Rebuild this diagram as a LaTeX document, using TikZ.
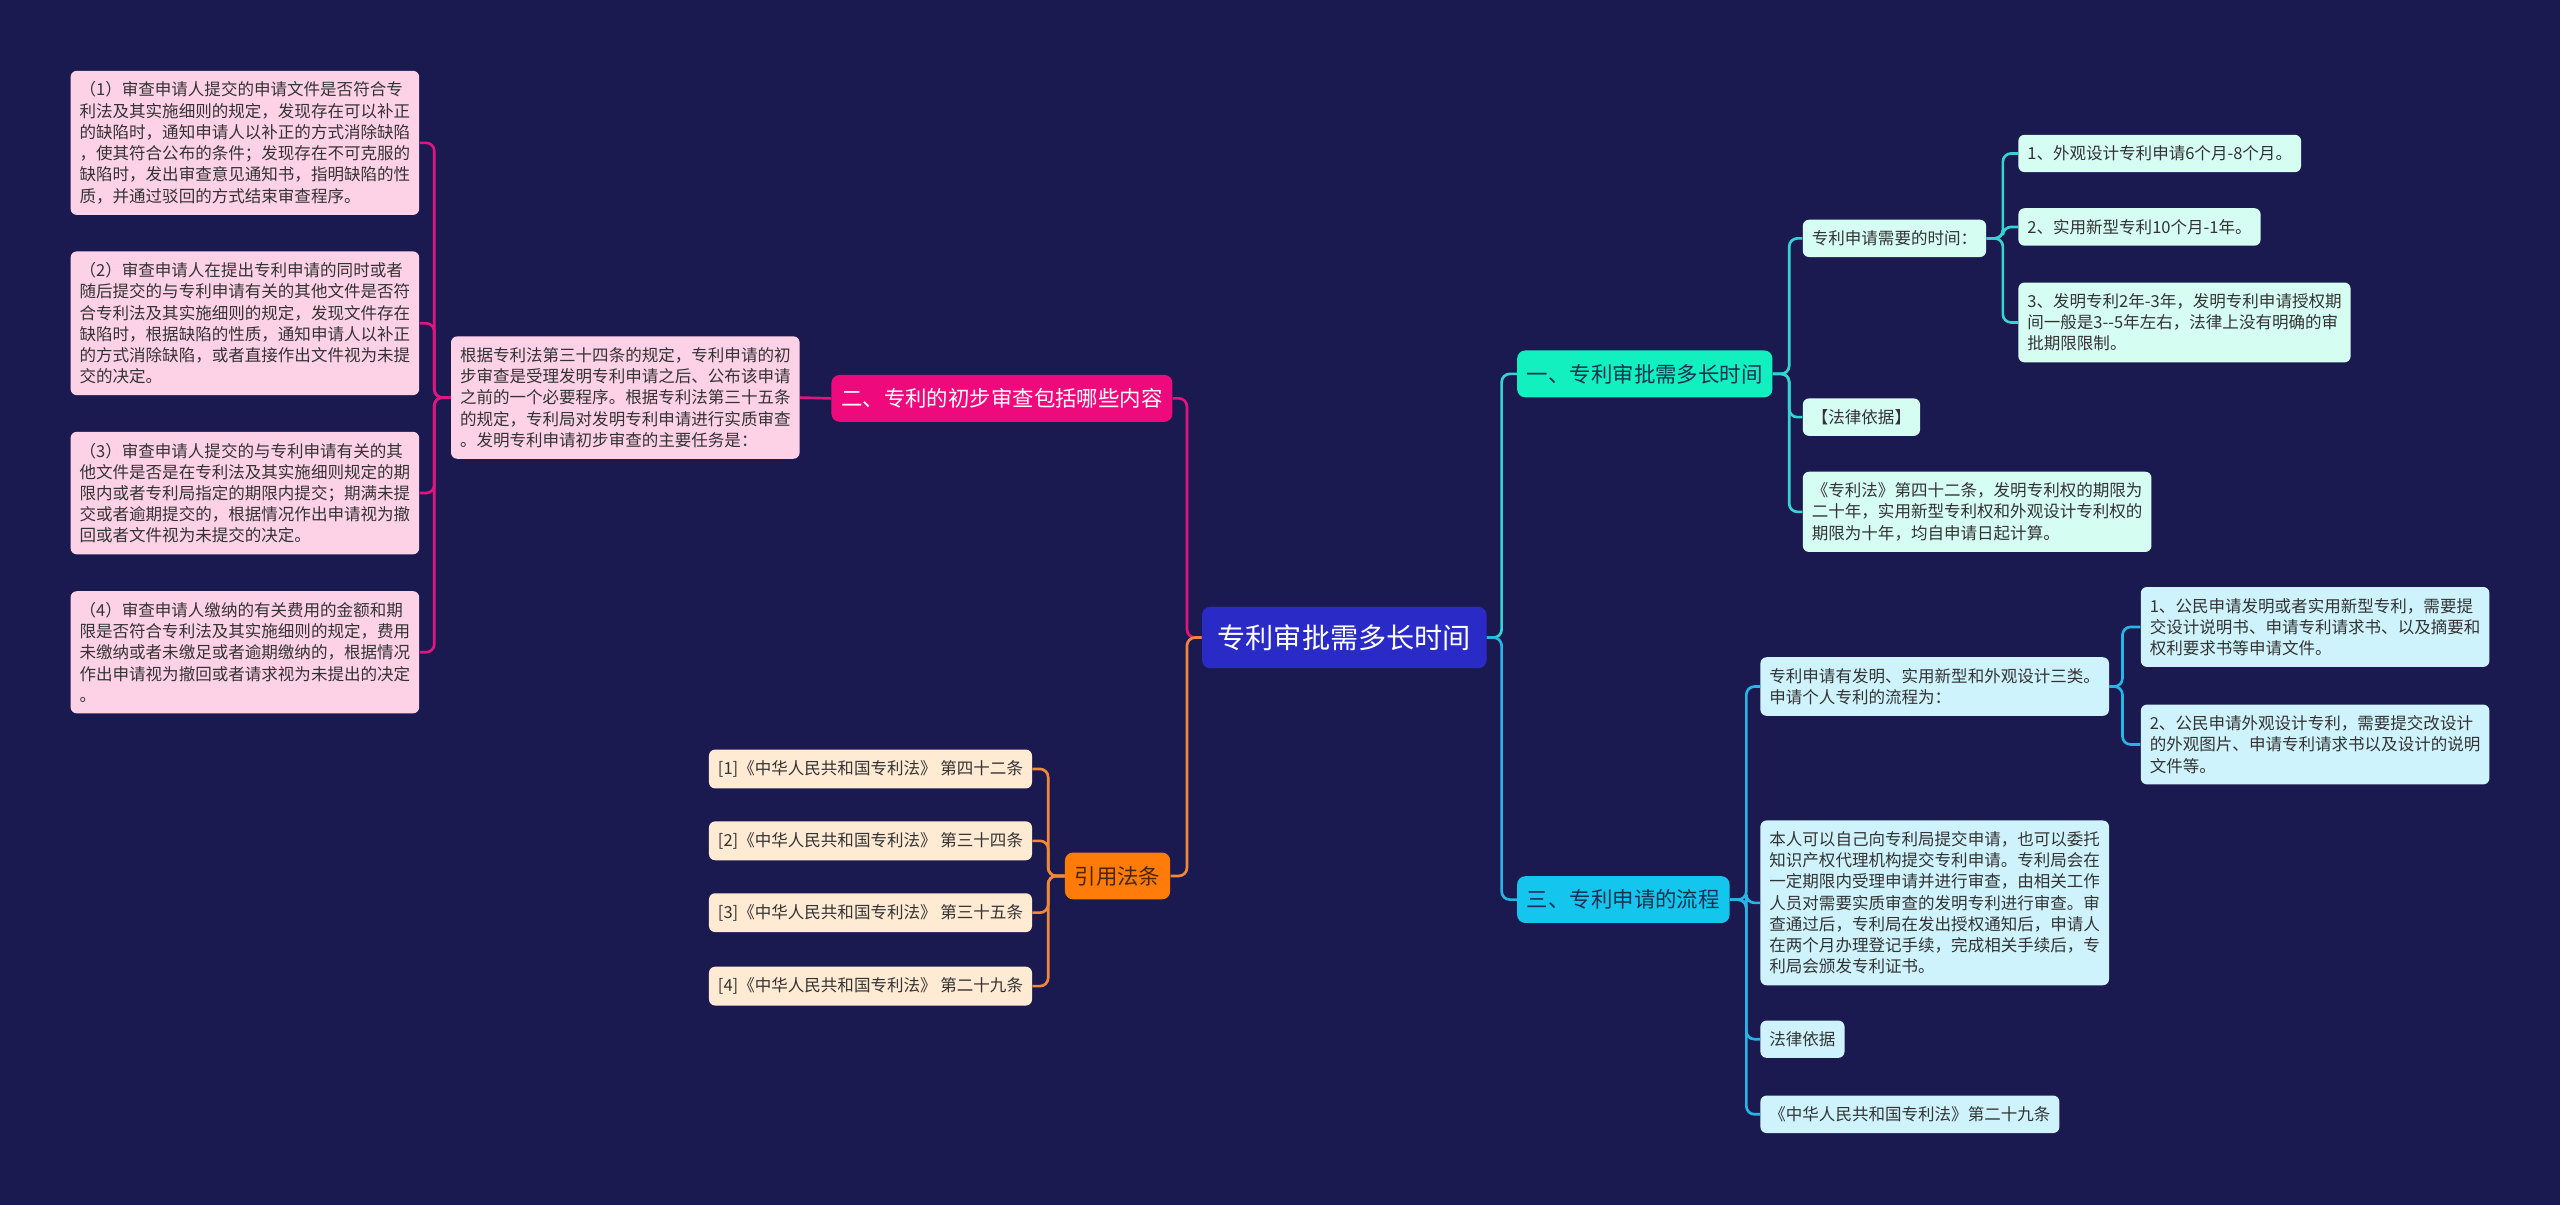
\documentclass[tikz,border=0pt]{standalone}
\usepackage{fontspec}
\setmainfont{Noto Sans CJK SC}
\usepackage{tikz}
\usetikzlibrary{positioning}
\usepackage{xcolor}
\definecolor{bgNavy}{HTML}{1B1A50}
\definecolor{rootBlue}{HTML}{2A2BC6}
\definecolor{secMagenta}{HTML}{EE0A7C}
\definecolor{secTeal}{HTML}{12F0C0}
\definecolor{secCyan}{HTML}{14C6EE}
\definecolor{secOrange}{HTML}{FF7B0A}
\definecolor{pinkFill}{HTML}{FDD2E7}
\definecolor{creamFill}{HTML}{FFEAD3}
\definecolor{mintFill}{HTML}{D6FDF1}
\definecolor{iceFill}{HTML}{CFF3FC}
\definecolor{leafText}{HTML}{333333}
\definecolor{secText}{HTML}{173250}
\definecolor{citeText}{HTML}{4A2600}
\definecolor{lineMag}{HTML}{E0157F}
\definecolor{lineOrange}{HTML}{F0883A}
\definecolor{lineTeal}{HTML}{34D4D0}
\definecolor{lineBlue}{HTML}{27B4E6}

\begin{document}
\begin{tikzpicture}[
    x=0.8pt, y=-0.8pt,
    rootBox/.style={fill=rootBlue, text=white, rounded corners=4pt, font=\fontsize{13.8}{16}\selectfont, inner xsep=7.6pt, inner ysep=8.6pt, anchor=west},
    secBox/.style={rounded corners=4pt, font=\fontsize{10.5}{13}\selectfont, inner xsep=4.8pt, inner ysep=6.6pt, anchor=west},
    leafBox/.style={rounded corners=3pt, font=\fontsize{8.1}{10.4}\selectfont, align=left, inner xsep=4.4pt, inner ysep=5.4pt, anchor=west, text=leafText},
    pinkLeaf/.style={leafBox, fill=pinkFill},
    creamLeaf/.style={leafBox, fill=creamFill},
    mintLeaf/.style={leafBox, fill=mintFill},
    iceLeaf/.style={leafBox, fill=iceFill},
    linkBase/.style={line width=1.3pt, rounded corners=4pt},
    linkMag/.style={linkBase, draw=lineMag},
    linkOrange/.style={linkBase, draw=lineOrange},
    linkTeal/.style={linkBase, draw=lineTeal},
    linkBlue/.style={linkBase, draw=lineBlue}
]
    \fill[bgNavy] (0,0) rectangle (1568,738);
    \useasboundingbox (0,0) rectangle (1568,738);

    % centre
    \node[rootBox] (root) at (736, 390.5) {专利审批需多长时间};

    % left: section two
    \node[secBox, fill=secMagenta, text=white] (secTwo) at (509, 244) {二、专利的初步审查包括哪些内容};
    \node[pinkLeaf] (intro) at (276, 243.5) {根据专利法第三十四条的规定，专利申请的初\\步审查是受理发明专利申请之后、公布该申请\\之前的一个必要程序。根据专利法第三十五条\\的规定，专利局对发明专利申请进行实质审查\\。发明专利申请初步审查的主要任务是：};
    \node[pinkLeaf] (taskA) at (43, 87.5) {（1）审查申请人提交的申请文件是否符合专\\利法及其实施细则的规定，发现存在可以补正\\的缺陷时，通知申请人以补正的方式消除缺陷\\，使其符合公布的条件；发现存在不可克服的\\缺陷时，发出审查意见通知书，指明缺陷的性\\质，并通过驳回的方式结束审查程序。};
    \node[pinkLeaf] (taskB) at (43, 198) {（2）审查申请人在提出专利申请的同时或者\\随后提交的与专利申请有关的其他文件是否符\\合专利法及其实施细则的规定，发现文件存在\\缺陷时，根据缺陷的性质，通知申请人以补正\\的方式消除缺陷，或者直接作出文件视为未提\\交的决定。};
    \node[pinkLeaf] (taskC) at (43, 302) {（3）审查申请人提交的与专利申请有关的其\\他文件是否是在专利法及其实施细则规定的期\\限内或者专利局指定的期限内提交；期满未提\\交或者逾期提交的，根据情况作出申请视为撤\\回或者文件视为未提交的决定。};
    \node[pinkLeaf] (taskD) at (43, 399.5) {（4）审查申请人缴纳的有关费用的金额和期\\限是否符合专利法及其实施细则的规定，费用\\未缴纳或者未缴足或者逾期缴纳的，根据情况\\作出申请视为撤回或者请求视为未提出的决定\\。};

    % left: cited laws
    \node[secBox, fill=secOrange, text=citeText] (cite) at (652, 536.5) {引用法条};
    \node[creamLeaf] (refA) at (434, 471) {[1]《中华人民共和国专利法》 第四十二条};
    \node[creamLeaf] (refB) at (434, 515) {[2]《中华人民共和国专利法》 第三十四条};
    \node[creamLeaf] (refC) at (434, 559) {[3]《中华人民共和国专利法》 第三十五条};
    \node[creamLeaf] (refD) at (434, 604) {[4]《中华人民共和国专利法》 第二十九条};

    % right: section one
    \node[secBox, fill=secTeal, text=secText] (secOne) at (929, 229) {一、专利审批需多长时间};
    \node[mintLeaf] (timeHead) at (1104, 146) {专利申请需要的时间：};
    \node[mintLeaf] (timeA) at (1236, 94) {1、外观设计专利申请6个月-8个月。};
    \node[mintLeaf] (timeB) at (1236, 139) {2、实用新型专利10个月-1年。};
    \node[mintLeaf] (timeC) at (1236, 197.5) {3、发明专利2年-3年，发明专利申请授权期\\间一般是3-\kern0pt-5年左右，法律上没有明确的审\\批期限限制。};
    \node[mintLeaf] (basisOne) at (1104, 255.5) {【法律依据】};
    \node[mintLeaf] (lawOne) at (1104, 313.5) {《专利法》第四十二条，发明专利权的期限为\\二十年，实用新型专利权和外观设计专利权的\\期限为十年，均自申请日起计算。};

    % right: section three
    \node[secBox, fill=secCyan, text=secText] (secThree) at (929, 551) {三、专利申请的流程};
    \node[iceLeaf] (flowHead) at (1078, 420.5) {专利申请有发明、实用新型和外观设计三类。\\申请个人专利的流程为：};
    \node[iceLeaf] (flowA) at (1311, 384) {1、公民申请发明或者实用新型专利，需要提\\交设计说明书、申请专利请求书、以及摘要和\\权利要求书等申请文件。};
    \node[iceLeaf] (flowB) at (1311, 456) {2、公民申请外观设计专利，需要提交改设计\\的外观图片、申请专利请求书以及设计的说明\\文件等。};
    \node[iceLeaf] (flowC) at (1078, 553) {本人可以自己向专利局提交申请，也可以委托\\知识产权代理机构提交专利申请。专利局会在\\一定期限内受理申请并进行审查，由相关工作\\人员对需要实质审查的发明专利进行审查。审\\查通过后，专利局在发出授权通知后，申请人\\在两个月办理登记手续，完成相关手续后，专\\利局会颁发专利证书。};
    \node[iceLeaf] (basisThree) at (1078, 636.5) {法律依据};
    \node[iceLeaf] (lawThree) at (1078, 682.5) {《中华人民共和国专利法》第二十九条};

    % connectors
    \draw[linkMag] (root.west) -- ++(-9,0) |- (secTwo.east);
    \draw[linkOrange] (root.west) -- ++(-9,0) |- (cite.east);
    \draw[linkTeal] (root.east) -- ++(9,0) |- (secOne.west);
    \draw[linkBlue] (root.east) -- ++(9,0) |- (secThree.west);

    \draw[linkMag] (secTwo.west) -- (intro.east);
    \foreach \t in {taskA,taskB,taskC,taskD}
        \draw[linkMag] (intro.west) -- ++(-10,0) |- (\t.east);

    \foreach \r in {refA,refB,refC,refD}
        \draw[linkOrange] (cite.west) -- ++(-10,0) |- (\r.east);

    \foreach \c in {timeHead,basisOne,lawOne}
        \draw[linkTeal] (secOne.east) -- ++(10,0) |- (\c.west);
    \foreach \c in {timeA,timeB,timeC}
        \draw[linkTeal] (timeHead.east) -- ++(10,0) |- (\c.west);

    \foreach \c in {flowHead,flowC,basisThree,lawThree}
        \draw[linkBlue] (secThree.east) -- ++(10,0) |- (\c.west);
    \foreach \c in {flowA,flowB}
        \draw[linkBlue] (flowHead.east) -- ++(8,0) |- (\c.west);
\end{tikzpicture}
\end{document}
